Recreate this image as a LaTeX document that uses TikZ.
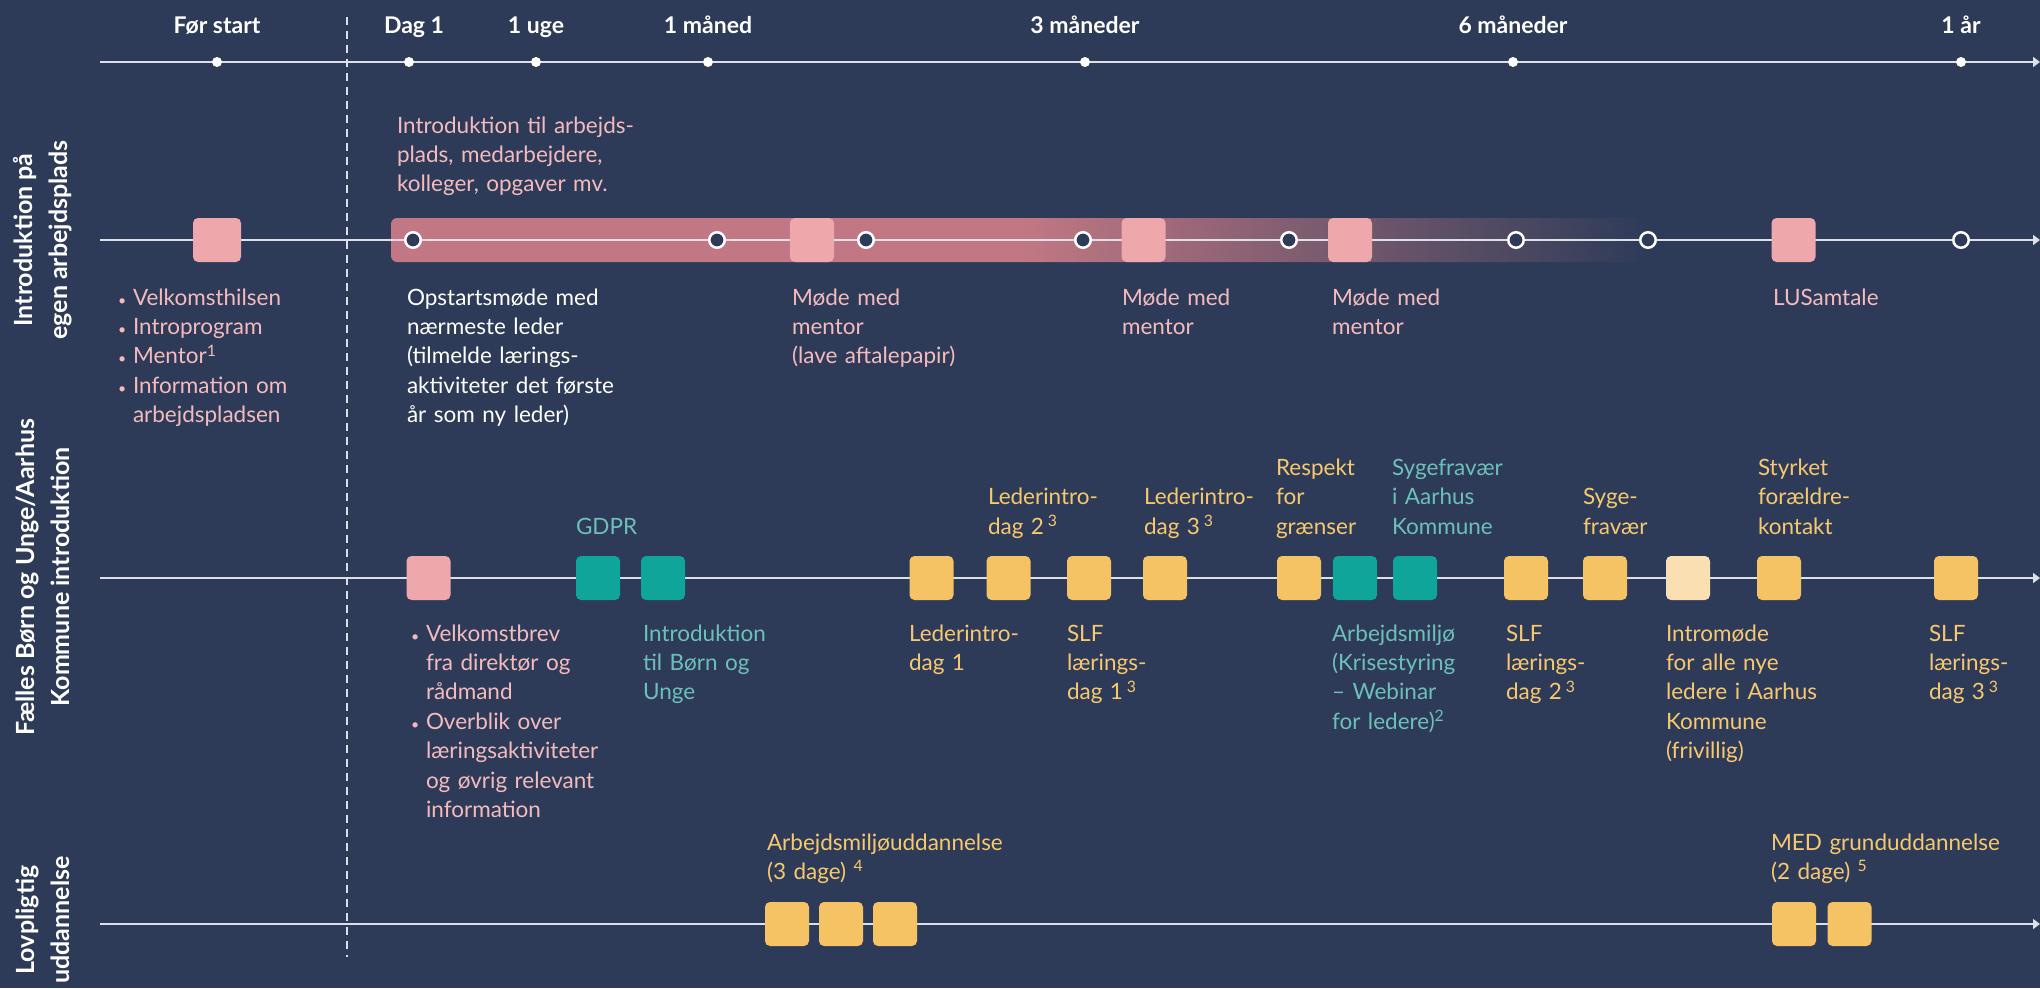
\documentclass[tikz,border=0pt]{standalone}
\usepackage{fontspec}
\setmainfont{Lato}
\usetikzlibrary{arrows.meta}
\definecolor{bg}{HTML}{2D3B58}
\definecolor{linec}{HTML}{DDE0E6}
\definecolor{pinkbox}{HTML}{EEA7AB}
\definecolor{pinktxt}{HTML}{F3BBBD}
\definecolor{barpink}{HTML}{C27884}
\definecolor{yel}{HTML}{F5C363}
\definecolor{yeltxt}{HTML}{F6C870}
\definecolor{tealbox}{HTML}{10A59B}
\definecolor{tealtxt}{HTML}{6DC0B7}
\definecolor{lightyel}{HTML}{FADFB2}
\newcommand{\bul}{\makebox[15pt][l]{\fontsize{14}{14}\selectfont •}}
\newcommand{\ind}{\hspace*{15pt}}
\begin{document}
\begin{tikzpicture}[x=1pt,y=-1pt,
  axisline/.style={draw=linec, line width=2pt, -{Triangle[length=7pt,width=10pt]}},
  txt/.style={anchor=base west, inner sep=0pt, outer sep=0pt, text width=420pt, align=left, font=\fontsize{22.5}{29.4}\selectfont},
  ptxt/.style={txt, text=pinktxt},
  wtxt/.style={txt, text=white},
  ytxt/.style={txt, text=yeltxt},
  ttxt/.style={txt, text=tealtxt},
  evbox/.style={rectangle, rounded corners=5pt, minimum width=44pt, minimum height=44pt, inner sep=0pt},
  pbox/.style={evbox, fill=pinkbox},
  ybox/.style={evbox, fill=yel},
  tbox/.style={evbox, fill=tealbox},
  lybox/.style={evbox, fill=lightyel},
  hdr/.style={anchor=base, inner sep=0pt, font=\fontsize{23}{26}\selectfont\bfseries, text=white},
  rowlab/.style={rotate=90, align=center, inner sep=0pt, font=\fontsize{25}{35}\selectfont\bfseries, text=white},
  ocirc/.style={circle, draw=white, line width=2.5pt, fill=bg, minimum size=15.5pt, inner sep=0pt},
  wdot/.style={circle, fill=white, minimum size=10pt, inner sep=0pt}
]
\useasboundingbox (0,0) rectangle (2040,988);
\fill[bg] (0,0) rectangle (2040,988);

% ---------- header axis ----------
\coordinate (t0) at (100,62);
\coordinate (t1) at (2040,62);
\draw[axisline] (t0) -- (t1);
\foreach \n/\x in {d0/217, d1/409, d2/536, d3/708, d4/1085, d5/1513, d6/1961}{
  \node[wdot] (\n) at (\x,62) {};
}
\node[hdr] (h0) at (217,33) {Før start};
\node[hdr] (h1) at (414,33) {Dag 1};
\node[hdr] (h2) at (536,33) {1 uge};
\node[hdr] (h3) at (708,33) {1 måned};
\node[hdr] (h4) at (1085,33) {3 måneder};
\node[hdr] (h5) at (1513,33) {6 måneder};
\node[hdr] (h6) at (1961,33) {1 år};

% dashed divider
\coordinate (dv0) at (347,17);
\coordinate (dv1) at (347,957);
\draw[linec, line width=1.5pt, dash pattern=on 8pt off 6pt] (dv0) -- (dv1);

% ---------- row labels ----------
\node[rowlab] (lab1) at (43,240) {Introduktion på\\egen arbejdsplads};
\node[rowlab] (lab2) at (43,577) {Fælles Børn og Unge/Aarhus\\Kommune introduktion};
\node[rowlab] (lab3) at (43,920) {Lovpligtig\\uddannelse};

% ---------- row 1 ----------
\path[rounded corners=6pt, left color=barpink, right color=bg, middle color=barpink] (391,218) rectangle (1648,262);
\coordinate (r1a) at (100,240);
\coordinate (r1b) at (2040,240);
\draw[axisline] (r1a) -- (r1b);
\foreach \n/\x in {c1/413, c2/717, c3/866, c4/1083, c5/1289, c6/1516, c7/1648, c8/1961}{
  \node[ocirc] (\n) at (\x,240) {};
}
\node[pbox, minimum width=48pt] (p1) at (217,240) {};
\node[pbox] (p2) at (812,240) {};
\node[pbox] (p3) at (1143.5,240) {};
\node[pbox] (p4) at (1350,240) {};
\node[pbox] (p5) at (1793.5,240) {};

\node[ptxt] (tintro) at (397,133) {Introduktion til arbejds-\\plads, medarbejdere,\\kolleger, opgaver mv.};
\node[ptxt] (tbul1) at (118,305) {\bul Velkomsthilsen\\\bul Introprogram\\\bul Mentor\textsuperscript{1}\\\bul Information om\\\ind arbejdspladsen};
\node[wtxt] (topst) at (407,305) {Opstartsmøde med\\nærmeste leder\\(tilmelde lærings-\\aktiviteter det første\\år som ny leder)};
\node[ptxt] (tm1) at (792,305) {Møde med\\mentor\\(lave aftalepapir)};
\node[ptxt] (tm2) at (1122,305) {Møde med\\mentor};
\node[ptxt] (tm3) at (1332,305) {Møde med\\mentor};
\node[ptxt] (tlus) at (1773,305) {LUSamtale};

% ---------- row 2 ----------
\coordinate (r2a) at (100,578);
\coordinate (r2b) at (2040,578);
\draw[axisline] (r2a) -- (r2b);
\node[pbox] (b1) at (428.5,578) {};
\node[tbox] (b2) at (598,578) {};
\node[tbox] (b3) at (663,578) {};
\node[ybox] (b4) at (931.5,578) {};
\node[ybox] (b5) at (1008.5,578) {};
\node[ybox] (b6) at (1089,578) {};
\node[ybox] (b7) at (1165,578) {};
\node[ybox] (b8) at (1299,578) {};
\node[tbox] (b9) at (1355,578) {};
\node[tbox] (b10) at (1415,578) {};
\node[ybox] (b11) at (1526,578) {};
\node[ybox] (b12) at (1605,578) {};
\node[lybox] (b13) at (1688,578) {};
\node[ybox] (b14) at (1779,578) {};
\node[ybox] (b15) at (1956,578) {};

\node[ttxt] (tgdpr) at (576,534) {GDPR};
\node[ytxt] (tld2) at (988,504.6) {Lederintro-\\dag 2\,\textsuperscript{3}};
\node[ytxt] (tld3) at (1144,504.6) {Lederintro-\\dag 3\,\textsuperscript{3}};
\node[ytxt] (tresp) at (1276,475.2) {Respekt\\for\\grænser};
\node[ttxt] (tsyg) at (1392,475.2) {Sygefravær\\i Aarhus\\Kommune};
\node[ytxt] (tsyg2) at (1583,504.6) {Syge-\\fravær};
\node[ytxt] (tstyr) at (1758,475.2) {Styrket\\forældre-\\kontakt};

\node[ptxt] (tbul2) at (411,641) {\bul Velkomstbrev\\\ind fra direktør og\\\ind rådmand\\\bul Overblik over\\\ind læringsaktiviteter\\\ind og øvrig relevant\\\ind information};
\node[ttxt] (tintbu) at (643,641) {Introduktion\\til Børn og\\Unge};
\node[ytxt] (tld1) at (909,641) {Lederintro-\\dag 1};
\node[ytxt] (tslf1) at (1067,641) {SLF\\lærings-\\dag 1\,\textsuperscript{3}};
\node[ttxt] (tarb) at (1332,641) {Arbejdsmiljø\\(Krisestyring\\– Webinar\\for ledere)\textsuperscript{2}};
\node[ytxt] (tslf2) at (1506,641) {SLF\\lærings-\\dag 2\,\textsuperscript{3}};
\node[ytxt] (tintm) at (1666,641) {Intromøde\\for alle nye\\ledere i Aarhus\\Kommune\\(frivillig)};
\node[ytxt] (tslf3) at (1929,641) {SLF\\lærings-\\dag 3\,\textsuperscript{3}};

% ---------- row 3 ----------
\coordinate (r3a) at (100,924);
\coordinate (r3b) at (2040,924);
\draw[axisline] (r3a) -- (r3b);
\node[ybox] (l1) at (787,924) {};
\node[ybox] (l2) at (841,924) {};
\node[ybox] (l3) at (895,924) {};
\node[ybox] (l4) at (1794,924) {};
\node[ybox] (l5) at (1849.5,924) {};
\node[ytxt] (tamu) at (767,850) {Arbejdsmiljøuddannelse\\(3 dage) \textsuperscript{4}};
\node[ytxt] (tmed) at (1771,850) {MED grunduddannelse\\(2 dage) \textsuperscript{5}};
\end{tikzpicture}
\end{document}
